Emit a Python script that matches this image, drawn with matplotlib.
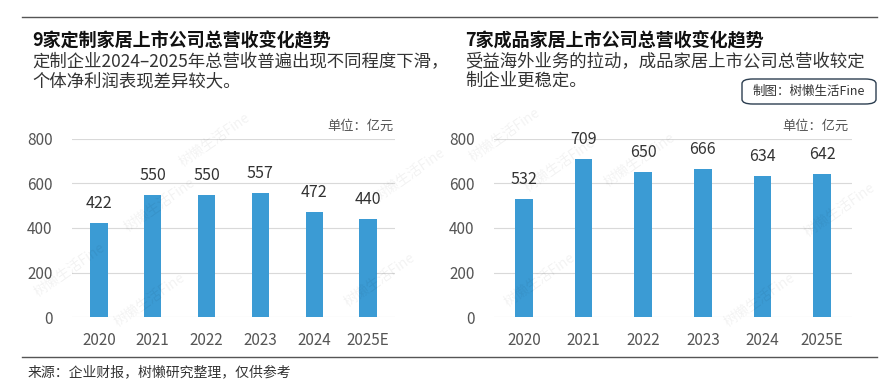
import matplotlib
matplotlib.use("Agg")
import matplotlib.pyplot as plt
from matplotlib.patches import FancyBboxPatch
from matplotlib.lines import Line2D

plt.rcParams['font.family'] = ['Noto Sans CJK SC', 'DejaVu Sans']

categories = ["2020", "2021", "2022", "2023", "2024", "2025E"]
custom_values = [422, 550, 550, 557, 472, 440]
finished_values = [532, 709, 650, 666, 634, 642]
y_ticks = [0, 200, 400, 600, 800]

title_left = "9家定制家居上市公司总营收变化趋势"
sub_left = ["定制企业2024–2025年总营收普遍出现不同程度下滑，", "个体净利润表现差异较大。"]
title_right = "7家成品家居上市公司总营收变化趋势"
sub_right = ["受益海外业务的拉动，成品家居上市公司总营收较定", "制企业更稳定。"]
unit_text = "单位：亿元"
credit_text = "制图：树懒生活Fine"
source_text = "来源：企业财报，树懒研究整理，仅供参考"

W, H = 895, 389
fig = plt.figure(figsize=(W/100, H/100), dpi=100)
fig.patch.set_facecolor("white")

bar_color = "#3b9bd4"

def px(x0, y0, x1, y1):
    return [x0/W, 1 - y1/H, (x1-x0)/W, (y1-y0)/H]

def draw(ax, vals, width):
    ax.bar(range(len(categories)), vals, width=width, color=bar_color, zorder=3)
    ax.set_xlim(-0.5, len(categories)-0.5)
    ax.set_ylim(0, 800)
    ax.set_yticks(y_ticks)
    ax.set_xticks(range(len(categories)))
    ax.set_xticklabels(categories)
    ax.grid(axis='y', color="#d9d9d9", linewidth=0.8, zorder=0)
    for s in ax.spines.values():
        s.set_visible(False)
    ax.tick_params(length=0, labelsize=11, labelcolor="#555555")
    ax.tick_params(axis='y', pad=14)
    ax.tick_params(axis='x', pad=11)
    for lab in ax.get_xticklabels() + ax.get_yticklabels():
        lab.set_fontweight("light")
    for i, v in enumerate(vals):
        ax.annotate(str(v), (i, v), xytext=(0, 8), textcoords="offset points",
                    ha="center", va="bottom", fontsize=11.5, color="#333333",
                    fontweight="light")
    ax.set_axisbelow(True)

ax1 = fig.add_axes(px(72, 139, 395, 317))
draw(ax1, custom_values, 0.32)
ax2 = fig.add_axes(px(494, 139, 852, 317))
draw(ax2, finished_values, 0.30)

# lines
fig.add_artist(Line2D([22/W, 877/W], [1-17/H, 1-17/H], color="#555555", linewidth=1))
fig.add_artist(Line2D([22/W, 877/W], [1-357/H, 1-357/H], color="#555555", linewidth=1))

# titles
fig.text(32/W, 1-41/H, title_left, fontsize=13, fontweight="bold", color="#111111", va="center", ha="left")
fig.text(465/W, 1-41/H, title_right, fontsize=13, fontweight="bold", color="#111111", va="center", ha="left")
for i, line in enumerate(sub_left):
    fig.text(32/W, 1-(62+19*i)/H, line, fontsize=12.5, color="#333333", va="center", ha="left",
             fontweight="light")
for i, line in enumerate(sub_right):
    fig.text(465/W, 1-(62+19*i)/H, line, fontsize=12.5, color="#333333", va="center", ha="left",
             fontweight="light")

# units
fig.text(394/W, 1-126/H, unit_text, fontsize=9.5, color="#555555", ha="right", va="center")
fig.text(849/W, 1-126/H, unit_text, fontsize=9.5, color="#555555", ha="right", va="center")

# credit box
box = FancyBboxPatch((742/W, 1-104/H), (876-742)/W, (104-79)/H,
                     boxstyle="round,pad=0,rounding_size=0.012",
                     transform=fig.transFigure, facecolor="white",
                     edgecolor="#2c3e50", linewidth=1)
fig.add_artist(box)
fig.text(809/W, 1-91.5/H, credit_text, fontsize=9, color="#333333", ha="center", va="center")

# source
fig.text(28/W, 1-372/H, source_text, fontsize=10, color="#333333", ha="left", va="center")

# watermarks
wm = "树懒生活Fine"
for (x, y) in [(70, 270), (160, 205), (215, 140), (410, 175), (150, 300), (380, 280),
               (505, 135), (560, 165), (640, 160), (840, 210), (540, 280), (760, 300)]:
    fig.text(x/W, 1-y/H, wm, fontsize=10, color="#000000", alpha=0.05, rotation=35,
             ha="center", va="center")

fig.savefig("out.png", dpi=100, facecolor="white")
